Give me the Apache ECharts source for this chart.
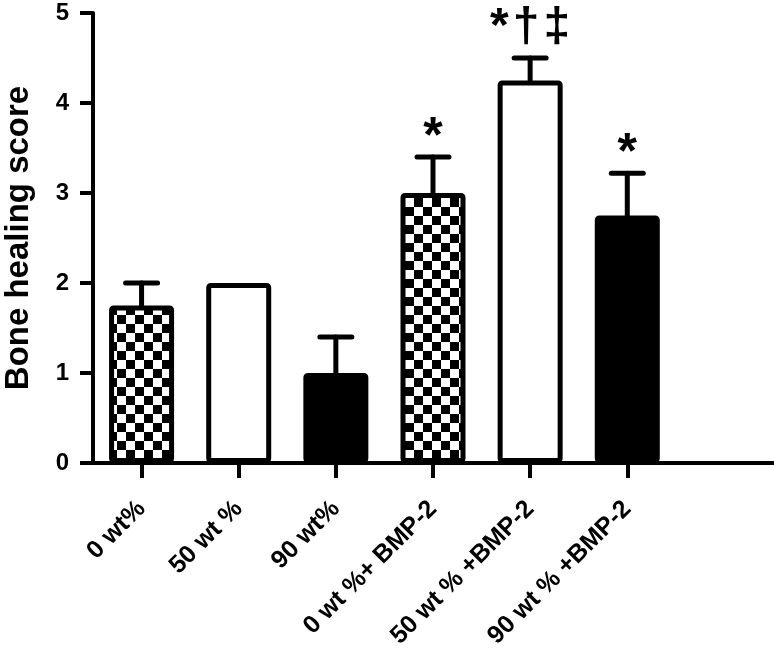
<!DOCTYPE html>
<html><head><meta charset="utf-8">
<script src="https://cdn.jsdelivr.net/npm/echarts@6/dist/echarts.min.js"></script>
<style>html,body{margin:0;padding:0;background:#fff}#c{width:774px;height:658px}</style>
</head><body><div id="c"></div>
<script>
const categories = ['0 wt%', '50 wt %', '90 wt%', '0 wt %+ BMP-2', '50 wt % +BMP-2', '90 wt % +BMP-2', ''];
const means = [1.75, 2.0, 1.0, 3.0, 4.25, 2.75];
const errors = [0.25, 0, 0.4, 0.4, 0.25, 0.47];
const fills = ['checker', 'white', 'black', 'checker', 'white', 'black'];
const marks = ['', '', '', '*', '*\u200A†\u200A‡', '*'];
const yTicks = [0, 1, 2, 3, 4, 5];

const FONT = '"Liberation Sans", Arial, sans-serif';
const cv = document.createElement('canvas');
cv.width = 18; cv.height = 18;
const cx = cv.getContext('2d');
cx.fillStyle = '#fff'; cx.fillRect(0, 0, 18, 18);
cx.fillStyle = '#000'; cx.fillRect(0, 0, 9, 9); cx.fillRect(9, 9, 9, 9);
const checker = {image: cv, repeat: 'repeat'};
function fillOf(f) { return f === 'checker' ? checker : (f === 'black' ? '#000' : '#fff'); }

const chart = echarts.init(document.getElementById('c'), null, {renderer: 'canvas'});
chart.setOption({
  animation: false,
  backgroundColor: '#fff',
  grid: {left: 93, right: 1, top: 13, bottom: 195, containLabel: false, outerBoundsMode: 'none'},
  xAxis: {
    type: 'category', data: categories, boundaryGap: true,
    axisLine: {lineStyle: {color: '#000', width: 4}},
    axisTick: {show: true, alignWithLabel: true, length: 15, lineStyle: {color: '#000', width: 4},
      interval: function (i, v) { return v !== ''; }},
    axisLabel: {interval: 0, rotate: 45, margin: 42, color: '#000', fontFamily: FONT, fontWeight: 'bold', fontSize: 25}
  },
  yAxis: {
    type: 'value', min: yTicks[0], max: yTicks[yTicks.length - 1], interval: 1,
    name: 'Bone healing score', nameLocation: 'middle', nameGap: 58,
    nameTextStyle: {color: '#000', fontFamily: FONT, fontWeight: 'bold', fontSize: 33},
    axisLine: {show: true, lineStyle: {color: '#000', width: 4}},
    axisTick: {show: true, length: 13, lineStyle: {color: '#000', width: 4}},
    axisLabel: {color: '#000', fontFamily: FONT, fontWeight: 'bold', fontSize: 24, margin: 24},
    splitLine: {show: false}
  },
  series: [
    {
      type: 'bar', barWidth: 65,
      data: means.map((v, i) => ({value: v, itemStyle: {color: fillOf(fills[i]), borderColor: '#000', borderWidth: 5, borderRadius: 2}}))
    },
    {
      type: 'custom', z: 5,
      data: means.map((v, i) => [i, v, errors[i]]),
      renderItem: function (params, api) {
        const i = api.value(0), v = api.value(1), e = api.value(2);
        const base = api.coord([i, v]);
        const top = api.coord([i, v + e]);
        const children = [];
        const st = {stroke: '#000', lineWidth: 5, lineCap: 'round'};
        if (e > 0) {
          children.push({type: 'line', shape: {x1: base[0], y1: base[1], x2: top[0], y2: top[1]}, style: st});
          children.push({type: 'line', shape: {x1: top[0] - 16, y1: top[1], x2: top[0] + 16, y2: top[1]}, style: st});
        }
        const m = marks[params.dataIndex];
        if (m) {
          const single = m.length === 1;
          children.push({type: 'text', style: {text: m, x: top[0], y: top[1] + (single ? 6 : -6), align: 'center', verticalAlign: 'bottom',
            fill: '#000', font: 'bold ' + (single ? 50 : 48) + 'px ' + FONT}});
        }
        return {type: 'group', children: children};
      }
    }
  ]
});
</script></body></html>
